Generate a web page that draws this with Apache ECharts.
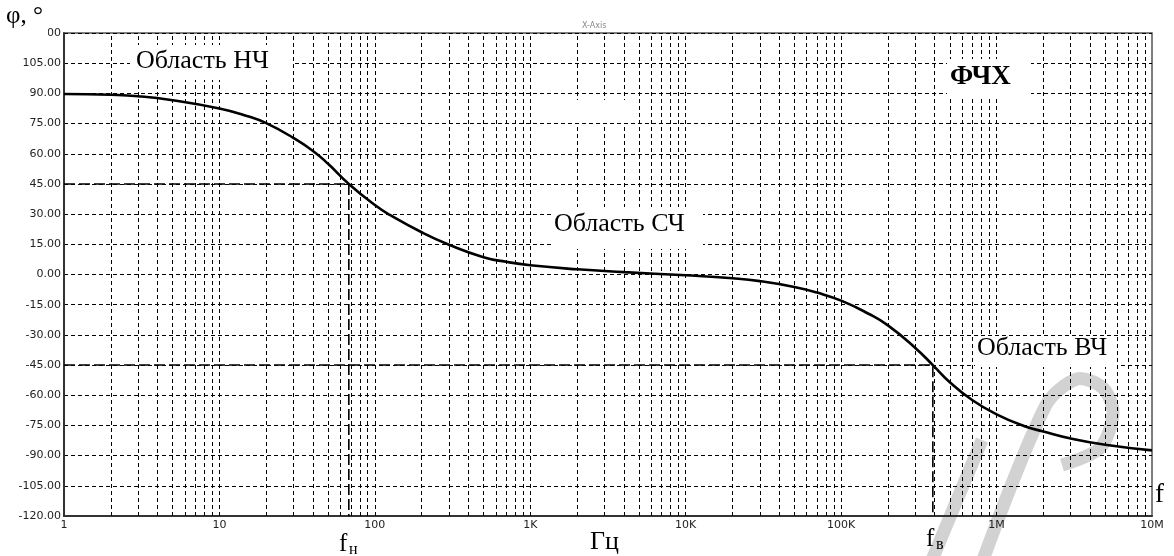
<!DOCTYPE html>
<html>
<head>
<meta charset="utf-8">
<title>ФЧХ</title>
<script src="https://cdn.jsdelivr.net/npm/echarts@6/dist/echarts.min.js"></script>
<style>
html, body { margin: 0; padding: 0; background: #fff; }
#main { width: 1174px; height: 556px; }
</style>
</head>
<body>
<div id="main"></div>
<script>
// frequency, Hz
var freqs = [1, 2, 3, 5, 10, 15, 20, 30, 40, 50, 68, 100, 125, 200, 300, 500, 700,
    1000, 2000, 4000, 10000, 20000, 30000, 50000, 70000, 100000, 150000, 200000,
    300000, 389000, 500000, 700000, 1000000, 1500000, 2000000, 3000000, 5000000, 10000000];
// phase, degrees
var phases = [89.7, 89.3, 88.6, 86.6, 82.5, 78.8, 75.2, 67.8, 61.4, 55.0, 45, 34.5, 29.6, 21.0, 14.8, 8.6, 6.3,
    4.6, 2.6, 1.2, -0.4, -1.9, -3.3, -6.2, -9.0, -13.0, -19.5, -25.3,
    -36.5, -45, -53.5, -62.5, -69.5, -75.3, -78, -81.5, -84.6, -87.4];

var fLow = 68;        // fн
var fHigh = 389000;   // fв
var cutPhase = 45;

var yMin = -120, yMax = 120, yStep = 15;
var xMin = 1, xMax = 10000000;

var xTickValues = [1, 10, 100, 1000, 10000, 100000, 1000000, 10000000];
var xTickLabels = ['1', '10', '100', '1K', '10K', '100K', '1M', '10M'];
var decades = [1, 10, 100, 1000, 10000, 100000, 1000000];
var mults = [1, 2, 3, 4, 5, 6, 7, 8, 9];

var myChart = echarts.init(document.getElementById('main'));

var curve = freqs.map(function (f, i) { return [f, phases[i]]; });

// vertical log grid lines 1..9 of every decade
var vLines = [];
decades.forEach(function (d) {
    mults.forEach(function (m) {
        var v = d * m;
        if (v > xMin && v < xMax) vLines.push({ xAxis: v });
    });
});

var dashBlack = { color: '#000', width: 1, type: [4, 3] };
var guideStyle = { color: '#000', width: 1.6, type: [11, 4] };
var serif = '"Liberation Serif", "Times New Roman", serif';
var wm = { stroke: '#d2d2d2', lineWidth: 13, fill: null };

var option = {
    backgroundColor: '#fff',
    animation: false,
    grid: {
        left: 64, right: 22, top: 33, bottom: 40,
        show: true, borderColor: '#555', borderWidth: 1.5
    },
    xAxis: {
        type: 'log',
        logBase: 10,
        min: xMin,
        max: xMax,
        axisLine: { onZero: false, lineStyle: { color: '#333', width: 2 } },
        axisTick: { show: false },
        splitLine: { show: false },
        axisLabel: {
            color: '#222',
            fontFamily: 'DejaVu Sans',
            fontSize: 11,
            margin: 4,
            formatter: function (v) {
                var i = xTickValues.indexOf(Math.round(v));
                return i >= 0 ? xTickLabels[i] : '';
            }
        }
    },
    yAxis: {
        type: 'value',
        min: yMin,
        max: yMax,
        interval: yStep,
        axisLine: { show: true, lineStyle: { color: '#333', width: 2 } },
        axisTick: { show: false },
        splitLine: { show: true, lineStyle: dashBlack },
        axisLabel: {
            color: '#222',
            fontFamily: 'DejaVu Sans',
            fontSize: 11,
            margin: 3,
            formatter: function (v) { return v.toFixed(2); }
        }
    },
    series: [
        {
            name: 'grid',
            type: 'line',
            data: [],
            silent: true,
            markLine: {
                silent: true,
                symbol: 'none',
                label: { show: false },
                lineStyle: dashBlack,
                data: vLines
            }
        },
        {
            name: 'fн',
            type: 'line',
            symbol: 'none',
            silent: true,
            lineStyle: guideStyle,
            data: [[xMin, cutPhase], [fLow, cutPhase], [fLow, yMin]],
            z: 3
        },
        {
            name: 'fв',
            type: 'line',
            symbol: 'none',
            silent: true,
            lineStyle: guideStyle,
            data: [[xMin, -cutPhase], [fHigh, -cutPhase], [fHigh, yMin]],
            z: 3
        },
        {
            name: 'ФЧХ',
            type: 'line',
            symbol: 'none',
            smooth: 0.5,
            lineStyle: { color: '#000', width: 2.6 },
            data: curve,
            z: 5
        }
    ],
    graphic: [
        // faint watermark strokes
        { type: 'polyline', z: -1, silent: true, shape: { points: [[932, 560], [982, 440]] }, style: wm },
        { type: 'polyline', z: -1, silent: true,
          shape: { points: [[983, 560], [1046, 405], [1077, 379], [1103, 388], [1113, 413], [1100, 448], [1062, 465]], smooth: 0.3 },
          style: wm },

        // white patches over the grid
        { type: 'rect', z: 100, shape: { x: 12, y: 26, width: 36, height: 14 }, style: { fill: '#fff' } },
        { type: 'rect', z: 100, shape: { x: 130, y: 45, width: 162, height: 35 }, style: { fill: '#fff' } },
        { type: 'rect', z: 100, shape: { x: 551, y: 207, width: 152, height: 42 }, style: { fill: '#fff' } },
        { type: 'rect', z: 100, shape: { x: 573, y: 100, width: 60, height: 23 }, style: { fill: '#fff' } },
        { type: 'rect', z: 100, shape: { x: 947, y: 59, width: 84, height: 37 }, style: { fill: '#fff' } },
        { type: 'rect', z: 100, shape: { x: 975, y: 337, width: 142, height: 30 }, style: { fill: '#fff' } },

        // texts
        { type: 'text', z: 101, style: { x: 6, y: 4, text: 'φ, °', font: '25px ' + serif, fill: '#000' } },
        { type: 'text', z: 101, style: { x: 582, y: 22, text: 'X-Axis', font: '8px "DejaVu Sans"', fill: '#888' } },
        { type: 'text', z: 101, style: { x: 136, y: 48, text: 'Область НЧ', font: '26px ' + serif, fill: '#000' } },
        { type: 'text', z: 101, style: { x: 554, y: 211, text: 'Область СЧ', font: '26px ' + serif, fill: '#000' } },
        { type: 'text', z: 101, style: { x: 950, y: 64, text: 'ФЧХ', font: 'bold 27px ' + serif, fill: '#000' } },
        { type: 'text', z: 101, style: { x: 977, y: 335, text: 'Область ВЧ', font: '26px ' + serif, fill: '#000' } },
        { type: 'text', z: 101, style: { x: 590, y: 529, text: 'Гц', font: '26px ' + serif, fill: '#000' } },
        { type: 'text', z: 101, style: { x: 1155, y: 481, text: 'f', font: '27px ' + serif, fill: '#000' } },
        { type: 'text', z: 101, style: { x: 339, y: 532, text: 'f', font: '25px ' + serif, fill: '#000' } },
        { type: 'text', z: 101, style: { x: 349, y: 542, text: 'н', font: '16px ' + serif, fill: '#000' } },
        { type: 'text', z: 101, style: { x: 926, y: 527, text: 'f', font: '25px ' + serif, fill: '#000' } },
        { type: 'text', z: 101, style: { x: 936, y: 537, text: 'в', font: '16px ' + serif, fill: '#000' } }
    ]
};

myChart.setOption(option);
</script>
</body>
</html>
